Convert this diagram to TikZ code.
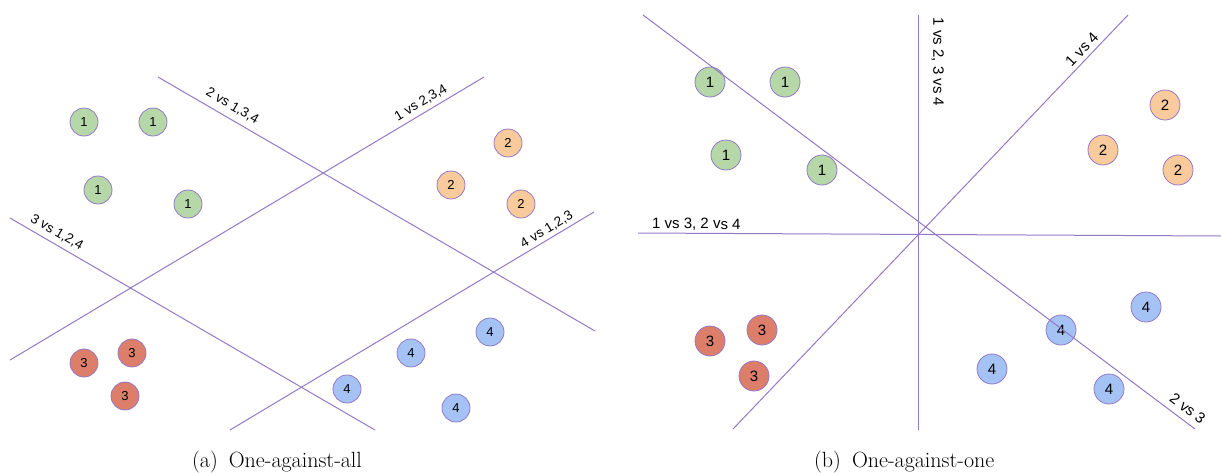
\documentclass[tikz,border=0pt]{standalone}
\usepackage{fontspec}
\setsansfont{Liberation Sans}
\usetikzlibrary{positioning}
\definecolor{cline}{HTML}{9479C6}
\definecolor{cgreen}{HTML}{B6D7A8}
\definecolor{corange}{HTML}{F9CB9C}
\definecolor{cred}{HTML}{DD7E6B}
\definecolor{cblue}{HTML}{A4C2F4}

\begin{document}
\begin{tikzpicture}[x=1pt, y=-1pt,
  pa/.style={circle, draw=cline, line width=0.8pt, minimum size=28pt, inner sep=0pt,
    font=\sffamily\fontsize{13}{13}\selectfont},
  pb/.style={pa, minimum size=30pt, font=\sffamily\fontsize{15}{15}\selectfont},
  c1/.style={fill=cgreen},
  c2/.style={fill=corange},
  c3/.style={fill=cred},
  c4/.style={fill=cblue},
  sep/.style={draw=cline, line width=1pt},
  lbla/.style={sloped, inner sep=1pt, font=\sffamily\fontsize{13.5}{13.5}\selectfont},
  lblb/.style={sloped, inner sep=1pt, font=\sffamily\fontsize{15}{15}\selectfont},
  capt/.style={inner sep=0pt, font=\fontsize{22}{24}\selectfont}]

\useasboundingbox (0,0) rectangle (1221,472);

% (a) one-against-all
\node[pa, c1] (a11) at (84,122) {1};
\node[pa, c1] (a12) at (153,122) {1};
\node[pa, c1] (a13) at (98,190) {1};
\node[pa, c1] (a14) at (188,204) {1};
\node[pa, c2] (a21) at (508,143) {2};
\node[pa, c2] (a22) at (451,185) {2};
\node[pa, c2] (a23) at (521,204) {2};
\node[pa, c3] (a31) at (84,363) {3};
\node[pa, c3] (a32) at (132,353) {3};
\node[pa, c3] (a33) at (125,396) {3};
\node[pa, c4] (a41) at (490,332) {4};
\node[pa, c4] (a42) at (411,353) {4};
\node[pa, c4] (a43) at (347,389) {4};
\node[pa, c4] (a44) at (456,408) {4};

\coordinate (one-s) at (10,360);
\coordinate (one-e) at (484,77);
\coordinate (two-s) at (158,77);
\coordinate (two-e) at (595,331);
\coordinate (three-s) at (10,218);
\coordinate (three-e) at (375,430);
\coordinate (four-s) at (230,430);
\coordinate (four-e) at (594,212);

\draw[sep] (one-s) -- node[lbla, pos=0.878, above=3pt] {1 vs 2,3,4} (one-e);
\draw[sep] (two-s) -- node[lbla, pos=0.156, above=5pt] {2 vs 1,3,4} (two-e);
\draw[sep] (three-s) -- node[lbla, pos=0.113, above=4pt] {3 vs 1,2,4} (three-e);
\draw[sep] (four-s) -- node[lbla, pos=0.883, above=2pt] {4 vs 1,2,3} (four-e);

% (b) one-against-one
\node[pb, c1] (b11) at (710,82) {1};
\node[pb, c1] (b12) at (785,82) {1};
\node[pb, c1] (b13) at (726,155) {1};
\node[pb, c1] (b14) at (822,170) {1};
\node[pb, c2] (b21) at (1165,105) {2};
\node[pb, c2] (b22) at (1103,150) {2};
\node[pb, c2] (b23) at (1178,170) {2};
\node[pb, c3] (b31) at (710,341) {3};
\node[pb, c3] (b32) at (762,330) {3};
\node[pb, c3] (b33) at (754,376) {3};
\node[pb, c4] (b41) at (1146,307) {4};
\node[pb, c4] (b42) at (1061,330) {4};
\node[pb, c4] (b43) at (992,369) {4};
\node[pb, c4] (b44) at (1109,389) {4};

\coordinate (dn-s) at (643,15);
\coordinate (dn-e) at (1195,429);
\coordinate (vt-s) at (918,15);
\coordinate (vt-e) at (918,430);
\coordinate (hz-s) at (638,233);
\coordinate (hz-e) at (1221,236);
\coordinate (up-s) at (733,429);
\coordinate (up-e) at (1128,15);

\draw[sep] (dn-s) -- node[lblb, pos=0.974, above=5pt] {2 vs 3} (dn-e);
\draw[sep] (vt-s) -- node[lblb, pos=0.113, above=12pt] {1 vs 2, 3 vs 4} (vt-e);
\draw[sep] (hz-s) -- node[lblb, pos=0.1, above=1pt] {1 vs 3, 2 vs 4} (hz-e);
\draw[sep] (up-s) -- node[lblb, pos=0.901, above=3pt] {1 vs 4} (up-e);

% captions
\node[capt, anchor=north west] (capa) at (192,451) {(a)\enspace One-against-all};
\node[capt, anchor=north west] (capb) at (814,451) {(b)\enspace One-against-one};
\end{tikzpicture}
\end{document}
